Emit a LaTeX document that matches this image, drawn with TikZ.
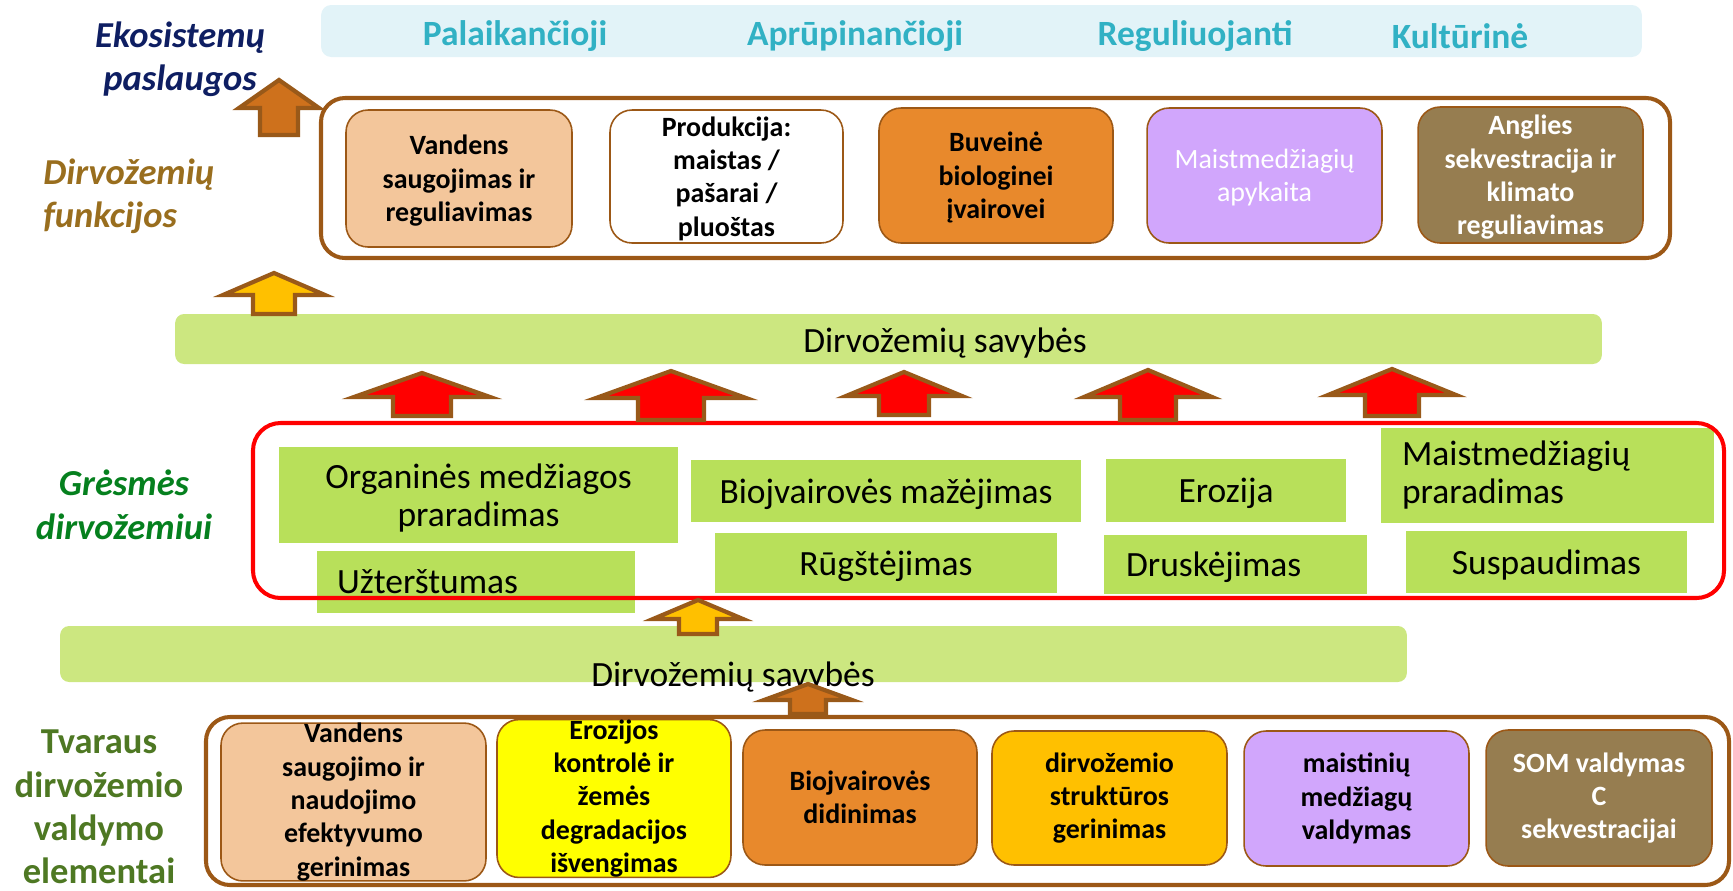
\documentclass[tikz,border=0pt]{standalone}
\usepackage{fontspec}
\setmainfont{Carlito}
\usepackage{tikz}
\usepackage{xcolor}
\definecolor{framebrown}{RGB}{156,88,22}
\definecolor{arrowbrown}{RGB}{153,89,25}
\definecolor{arroworange}{RGB}{206,113,28}
\definecolor{arrowyellow}{RGB}{255,192,0}
\definecolor{peach}{RGB}{243,198,155}
\definecolor{boxorange}{RGB}{232,137,44}
\definecolor{lavender}{RGB}{209,166,252}
\definecolor{olivebrown}{RGB}{150,125,80}
\definecolor{boxgold}{RGB}{255,192,0}
\definecolor{boxyellow}{RGB}{255,255,0}
\definecolor{bandgreen}{RGB}{204,231,128}
\definecolor{threatgreen}{RGB}{184,224,90}
\definecolor{svcteal}{RGB}{49,177,196}
\definecolor{svcblue}{RGB}{226,243,248}
\definecolor{navy}{RGB}{14,30,98}
\definecolor{funcgold}{RGB}{153,110,30}
\definecolor{threatlabel}{RGB}{5,128,30}
\definecolor{manglabel}{RGB}{78,120,35}
\newcommand{\boxfont}{\fontsize{15.9}{19}\selectfont\bfseries}
\newcommand{\bigfont}{\fontsize{20.2}{21.6}\selectfont}
\newcommand{\sidefont}{\fontsize{20.8}{24.7}\selectfont\bfseries}
\newcommand{\upblock}[7]{%
  \draw[arrowline, fill=#1] (#2,#3) -- (#2+#6,#4) -- (#2+#7,#4) -- (#2+#7,#5)
    -- (#2-#7,#5) -- (#2-#7,#4) -- (#2-#6,#4) -- cycle;}
\tikzset{fbox/.style={draw=framebrown, line width=0.9pt, rounded corners=0.44cm,
   align=center, font=\boxfont, inner sep=0pt},
 ftop/.style={fbox, text depth=0pt},
 threat/.style={fill=threatgreen, inner sep=0pt, align=center, font=\bigfont},
 tlow/.style={threat, text depth=0pt},
 band/.style={fill=bandgreen, rounded corners=0.18cm, inner sep=0pt},
 frame/.style={draw=framebrown, line width=2.3pt, rounded corners=0.48cm},
 arrowline/.style={draw=arrowbrown, line width=2.4pt},
 service/.style={font=\bigfont\bfseries, text=svcteal},
 sidelabel/.style={font=\sidefont, align=center, inner sep=0pt},
 }

\begin{document}
\begin{tikzpicture}[x=0.02cm, y=-0.02cm]
    \useasboundingbox (0,0) rectangle (1733,890);
    \node[fill=svcblue, rounded corners=0.2cm, minimum width=26.42cm, minimum height=1.04cm] (svcband) at (981.5,31) {};
    \node[service] (palaik) at (515,36) {Palaikančioji};
    \node[service] (aprup) at (855,36) {Aprūpinančioji};
    \node[service] (regul) at (1195,36) {Reguliuojanti};
    \node[service] (kult) at (1460,36) {Kultūrinė};

    \draw[frame] (321,98) rectangle (1670,258);
    \node[ftop, fill=peach, minimum width=4.52cm, minimum height=2.74cm] (fvand) at (459,178.5) {Vandens\\saugojimas ir\\reguliavimas};
    \node[ftop, fill=white, minimum width=4.66cm, minimum height=2.66cm] (fprod) at (726.5,176.5) {Produkcija:\\maistas /\\pašarai /\\pluoštas};
    \node[ftop, fill=boxorange, minimum width=4.68cm, minimum height=2.70cm] (fbuv) at (996,175.5) {Buveinė\\biologinei\\įvairovei};
    \node[ftop, fill=lavender, text=white, font=\boxfont\mdseries, minimum width=4.70cm, minimum height=2.70cm] (fmaist) at (1264.5,175.5) {Maistmedžiagių\\apykaita};
    \node[ftop, fill=olivebrown, text=white, minimum width=4.50cm, minimum height=2.72cm] (fangl) at (1530.5,175) {Anglies\\sekvestracija ir\\klimato\\reguliavimas};

    \node[band, minimum width=28.54cm, minimum height=1.0cm] (bandup) at (888.5,339) {};
    \node[font=\bigfont] (savybup) at (945,343) {Dirvožemių savybės};

    \node[tlow, minimum width=7.98cm, minimum height=1.92cm] (torg) at (478.5,495) {Organinės medžiagos\\praradimas};
    \node[tlow, align=left, text width=5.56cm, inner xsep=0.4cm, minimum width=6.36cm, minimum height=1.24cm] (tuzt) at (476,582) {Užterštumas};
    \node[tlow, minimum width=7.80cm, minimum height=1.24cm] (tbio) at (886,491) {Biojvairovės mažėjimas};
    \node[tlow, minimum width=6.84cm, minimum height=1.20cm] (trug) at (886,563) {Rūgštėjimas};
    \node[tlow, minimum width=4.80cm, minimum height=1.26cm] (teroz) at (1226,490.5) {Erozija};
    \node[tlow, align=left, text width=4.38cm, inner xsep=0.44cm, minimum width=5.26cm, minimum height=1.18cm] (tdrusk) at (1235.5,564.5) {Druskėjimas};
    \node[threat, align=left, text width=5.82cm, inner xsep=0.42cm, minimum width=6.66cm, minimum height=1.90cm] (tmaist) at (1547.5,475.5) {Maistmedžiagių\\praradimas};
    \node[tlow, minimum width=5.62cm, minimum height=1.24cm] (tsusp) at (1546.5,562) {Suspaudimas};
    \draw[red, line width=2.3pt, rounded corners=0.55cm] (253,423) rectangle (1724,598);

    \node[band, minimum width=26.94cm, minimum height=1.12cm] (banddown) at (733.5,654) {};
    \node[font=\bigfont] (savybdown) at (733,677) {Dirvožemių savybės};

    \draw[frame] (206,717) rectangle (1729,885);
    \node[fbox, fill=peach, minimum width=5.30cm, minimum height=3.00cm] (vvand) at (353.5,802) {Vandens\\saugojimo ir\\naudojimo\\efektyvumo\\gerinimas};
    \node[fbox, fill=boxyellow, minimum width=4.68cm, minimum height=2.98cm] (veroz) at (614,798.5) {Erozijos\\kontrolė ir\\žemės\\degradacijos\\išvengimas};
    \node[fbox, fill=boxorange, minimum width=4.68cm, minimum height=2.70cm] (vbio) at (860,797.5) {Biojvairovės\\didinimas};
    \node[fbox, fill=boxgold, minimum width=4.70cm, minimum height=2.68cm] (vstrukt) at (1109.5,798) {dirvožemio\\struktūros\\gerinimas};
    \node[fbox, fill=lavender, minimum width=4.50cm, minimum height=2.70cm] (vmaist) at (1356.5,798.5) {maistinių\\medžiagų\\valdymas};
    \node[fbox, fill=olivebrown, text=white, minimum width=4.52cm, minimum height=2.72cm] (vsom) at (1599,798) {SOM valdymas\\C\\sekvestracijai};

    \upblock{arroworange}{279}{80}{108}{135}{40}{19}
    \upblock{arrowyellow}{274}{273}{295}{314}{51}{21}
    \upblock{red}{422}{373}{397}{416}{68}{29}
    \upblock{red}{671}{371}{398}{420}{75}{33}
    \upblock{red}{904}{372}{396}{415}{58}{25}
    \upblock{red}{1148}{370}{397}{420}{64}{28}
    \upblock{red}{1392}{369}{395}{416}{64}{27}
    \upblock{arrowyellow}{698}{600}{619}{634}{45}{19}
    \upblock{arroworange}{808}{684}{700}{714}{44}{18}

    \node[sidelabel, text=navy, font=\sidefont\itshape] (ekosist) at (180,59.5) {Ekosistemų\\paslaugos};
    \node[sidelabel, text=funcgold, font=\sidefont\itshape, align=left, anchor=west] (funkc) at (43,196.5) {Dirvožemių\\funkcijos};
    \node[sidelabel, text=threatlabel, font=\sidefont\itshape] (gresm) at (124,504.6) {Grėsmės\\dirvožemiui};
    \node[sidelabel, text=manglabel] (tvaraus) at (99,807) {Tvaraus\\dirvožemio\\valdymo\\elementai};
\end{tikzpicture}
\end{document}
